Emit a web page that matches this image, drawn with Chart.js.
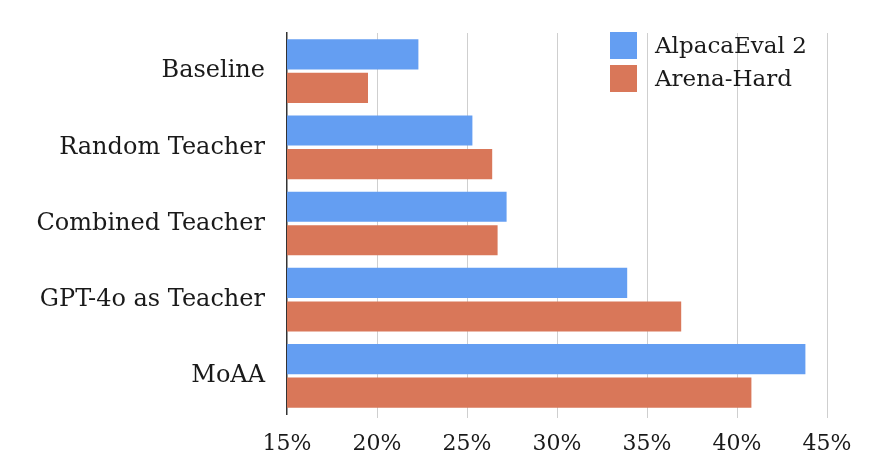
<!DOCTYPE html>
<html>
<head>
<meta charset="utf-8">
<script src="https://cdn.jsdelivr.net/npm/chart.js@4"></script>
<style>
  html, body { margin: 0; padding: 0; background: #fff; }
  #wrap { width: 896px; height: 475px; }
</style>
</head>
<body>
<div id="wrap"><canvas id="chart" width="896" height="475"></canvas></div>
<script>
// Data
const categories = ['Baseline', 'Random Teacher', 'Combined Teacher', 'GPT-4o as Teacher', 'MoAA'];
const alpacaEval = [22.3, 25.3, 27.2, 33.9, 43.8];
const arenaHard = [19.5, 26.4, 26.7, 36.9, 40.8];
const seriesNames = ['AlpacaEval 2', 'Arena-Hard'];
const xTicks = [15, 20, 25, 30, 35, 40, 45];

const FONT = "'DejaVu Serif', serif";

// Legend drawn inside the plot, top right
const legendPlugin = {
  id: 'boxLegend',
  afterDraw(chart) {
    const ctx = chart.ctx;
    ctx.save();
    ctx.font = '23px ' + FONT;
    ctx.textBaseline = 'middle';
    chart.data.datasets.forEach((ds, i) => {
      const y = 32 + i * 33;
      ctx.fillStyle = ds.backgroundColor;
      ctx.fillRect(610, y, 27, 27);
      ctx.fillStyle = '#1a1a1a';
      ctx.fillText(ds.label, 655, y + 15);
    });
    ctx.restore();
  }
};

const ctx = document.getElementById('chart').getContext('2d');
new Chart(ctx, {
  type: 'bar',
  data: {
    labels: categories,
    datasets: [
      { label: seriesNames[0], data: alpacaEval, backgroundColor: '#649ef2' },
      { label: seriesNames[1], data: arenaHard, backgroundColor: '#d97759' }
    ]
  },
  options: {
    indexAxis: 'y',
    responsive: false,
    animation: false,
    layout: { padding: { top: 33, right: 69, left: 0, bottom: 0 } },
    datasets: { bar: { categoryPercentage: 0.88, barPercentage: 0.9 } },
    scales: {
      x: {
        min: 15,
        max: 45,
        afterBuildTicks: (s) => { s.ticks = xTicks.map(v => ({ value: v })); },
        afterFit: (s) => { s.height = 61; },
        grid: { color: (c) => c.index === 0 ? 'rgba(0,0,0,0)' : '#cfcfcf', lineWidth: 1, tickLength: 4 },
        border: { display: false },
        ticks: {
          font: { family: FONT, size: 22 },
          color: '#1a1a1a',
          padding: 13,
          callback: (v) => v + '%'
        }
      },
      y: {
        afterFit: (s) => { s.width = 287; },
        grid: { display: false },
        border: { display: true, color: '#333', width: 1.5 },
        ticks: {
          font: { family: FONT, size: 24 },
          color: '#1a1a1a',
          padding: 14
        }
      }
    },
    plugins: {
      legend: { display: false },
      tooltip: { enabled: false }
    }
  },
  plugins: [legendPlugin]
});
</script>
</body>
</html>
